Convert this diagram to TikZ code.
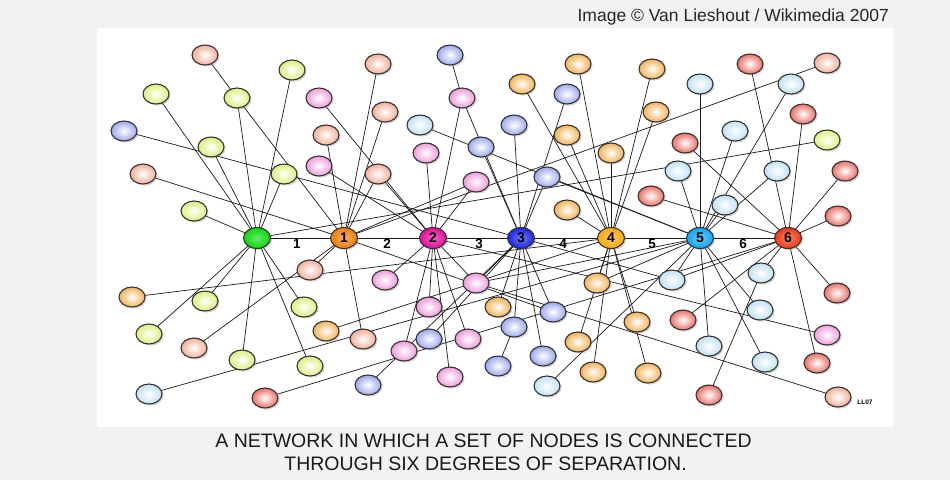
\documentclass[tikz,border=0pt]{standalone}
\usepackage{fontspec}
\setmainfont{Liberation Sans}
\usetikzlibrary{shapes.geometric,shadows}
\definecolor{bgray}{RGB}{242,242,242}
\definecolor{cPe}{RGB}{243,175,152}
\definecolor{cLi}{RGB}{220,240,125}
\definecolor{cBl}{RGB}{155,168,240}
\definecolor{cPk}{RGB}{240,155,218}
\definecolor{cLc}{RGB}{192,226,245}
\definecolor{cOg}{RGB}{245,178,85}
\definecolor{cRd}{RGB}{235,112,102}
\definecolor{cG}{RGB}{10,215,10}
\definecolor{cH1}{RGB}{240,125,5}
\definecolor{cH2}{RGB}{225,10,155}
\definecolor{cH3}{RGB}{25,35,225}
\definecolor{cH4}{RGB}{250,168,10}
\definecolor{cH5}{RGB}{15,165,240}
\definecolor{cH6}{RGB}{240,55,15}
\pgfdeclarelayer{bg}
\pgfdeclarelayer{edges}
\pgfsetlayers{bg,edges,main}
\tikzset{
  nd/.style={ellipse, draw=black!80, line width=1.1pt, minimum width=26pt, minimum height=20pt, inner sep=0pt,
    drop shadow={opacity=0.3, shadow xshift=1.6pt, shadow yshift=-1.6pt}},
  pe/.style={nd, inner color=white, outer color=cPe},
  li/.style={nd, inner color=white, outer color=cLi},
  bl/.style={nd, inner color=white, outer color=cBl},
  pk/.style={nd, inner color=white, outer color=cPk},
  lc/.style={nd, inner color=white, outer color=cLc},
  og/.style={nd, inner color=white, outer color=cOg},
  rd/.style={nd, inner color=white, outer color=cRd},
  hub/.style={nd, minimum width=27pt, minimum height=21pt, font=\bfseries\fontsize{14}{14}\selectfont,
    inner color=#1!60!white, outer color=#1},
  lnk/.style={draw=black!90, line width=0.7pt},
  elab/.style={font=\bfseries\fontsize{13.5}{14}\selectfont, inner sep=0pt}
}
\begin{document}
\begin{tikzpicture}[x=1pt,y=-1pt]
\useasboundingbox (0,0) rectangle (950,480);
\begin{pgfonlayer}{bg}
\fill[bgray] (0,0) rectangle (950,480);
\fill[white] (97,28) rectangle (893,427);
\end{pgfonlayer}
\node[anchor=base east, font=\fontsize{17.5}{20}\selectfont, text=black!85, inner sep=0pt] (title) at (889,21) {Image © Van Lieshout / Wikimedia 2007};
\node[anchor=base, font=\fontsize{19.5}{22}\selectfont, text=black!90, inner sep=0pt] (cap1) at (483.5,447) {A NETWORK IN WHICH A SET OF NODES IS CONNECTED};
\node[anchor=base, font=\fontsize{19.5}{22}\selectfont, text=black!90, inner sep=0pt] (cap2) at (485.5,470) {THROUGH SIX DEGREES OF SEPARATION.};
\node[font=\bfseries\fontsize{6.5}{7}\selectfont, inner sep=0pt] (ll) at (865,402) {LL07};
% hubs
\node[hub=cG] (G) at (257,238) {};
\node[hub=cH1] (H1) at (344,238) {1};
\node[hub=cH2] (H2) at (433,238) {2};
\node[hub=cH3] (H3) at (521,238) {3};
\node[hub=cH4] (H4) at (611,238) {4};
\node[hub=cH5] (H5) at (700,238) {5};
\node[hub=cH6] (H6) at (788,238) {6};
% edge labels
\node[elab] (l1) at (297,244) {1};
\node[elab] (l2) at (387,244) {2};
\node[elab] (l3) at (479,244) {3};
\node[elab] (l4) at (563,244) {4};
\node[elab] (l5) at (652,244) {5};
\node[elab] (l6) at (743,244) {6};
% top left
\node[pe] (a1) at (205,55) {};
\node[li] (a2) at (292,70) {};
\node[li] (a3) at (156,94) {};
\node[li] (a4) at (237,98) {};
\node[pk] (a5) at (319,98) {};
\node[bl] (a6) at (124,131) {};
\node[pe] (a7) at (326,135) {};
\node[li] (a8) at (211,147) {};
\node[pe] (a9) at (143,174) {};
\node[li] (a10) at (284,174) {};
\node[pk] (a11) at (319,166) {};
\node[li] (a12) at (194,211) {};
\node[pe] (a13) at (378,64) {};
\node[pe] (a14) at (385,112) {};
\node[pe] (a15) at (378,174) {};
% top centre
\node[bl] (b1) at (450,55) {};
\node[og] (b2) at (578,64) {};
\node[og] (b3) at (522,84) {};
\node[pk] (b4) at (462,98) {};
\node[bl] (b5) at (567,94) {};
\node[lc] (b6) at (420,125) {};
\node[bl] (b7) at (514,125) {};
\node[og] (b8) at (567,135) {};
\node[pk] (b9) at (426,153) {};
\node[bl] (b10) at (481,147) {};
\node[og] (b11) at (611,153) {};
\node[pk] (b12) at (476,182) {};
\node[bl] (b13) at (547,177) {};
\node[og] (b14) at (567,210) {};
% top right
\node[og] (c1) at (652,69) {};
\node[rd] (c2) at (750,64) {};
\node[pe] (c3) at (827,63) {};
\node[lc] (c4) at (700,84) {};
\node[lc] (c5) at (791,84) {};
\node[og] (c6) at (656,112) {};
\node[rd] (c7) at (803,114) {};
\node[lc] (c8) at (735,131) {};
\node[rd] (c9) at (685,143) {};
\node[li] (c10) at (827,140) {};
\node[lc] (c11) at (678,171) {};
\node[lc] (c12) at (777,171) {};
\node[rd] (c13) at (845,171) {};
\node[rd] (c14) at (651,196) {};
\node[lc] (c15) at (725,205) {};
\node[rd] (c16) at (838,216) {};
% bottom left
\node[pe] (d1) at (310,270) {};
\node[og] (d2) at (132,297) {};
\node[li] (d3) at (205,301) {};
\node[li] (d4) at (304,307) {};
\node[li] (d5) at (149,334) {};
\node[og] (d6) at (326,331) {};
\node[pe] (d7) at (363,339) {};
\node[pe] (d8) at (194,348) {};
\node[li] (d9) at (242,360) {};
\node[li] (d10) at (310,366) {};
\node[lc] (d11) at (149,394) {};
\node[rd] (d12) at (265,398) {};
\node[bl] (d13) at (368,385) {};
% bottom centre
\node[pk] (e1) at (385,280) {};
\node[pk] (e2) at (476,283) {};
\node[og] (e3) at (597,283) {};
\node[pk] (e4) at (429,307) {};
\node[og] (e5) at (498,307) {};
\node[bl] (e6) at (553,312) {};
\node[bl] (e7) at (514,327) {};
\node[og] (e8) at (637,322) {};
\node[bl] (e9) at (429,339) {};
\node[pk] (e10) at (468,339) {};
\node[pk] (e11) at (404,351) {};
\node[og] (e12) at (578,342) {};
\node[bl] (e13) at (543,356) {};
\node[bl] (e14) at (498,366) {};
\node[pk] (e15) at (450,377) {};
\node[og] (e16) at (593,372) {};
\node[og] (e17) at (648,373) {};
\node[lc] (e18) at (547,386) {};
% bottom right
\node[lc] (f1) at (672,280) {};
\node[lc] (f2) at (761,273) {};
\node[rd] (f3) at (837,293) {};
\node[lc] (f4) at (760,310) {};
\node[rd] (f5) at (683,320) {};
\node[pk] (f6) at (827,335) {};
\node[lc] (f7) at (709,346) {};
\node[lc] (f8) at (765,362) {};
\node[rd] (f9) at (817,363) {};
\node[rd] (f10) at (709,395) {};
\node[pe] (f11) at (838,397) {};
\begin{pgfonlayer}{edges}
\foreach \a/\b in {G/H1,H1/H2,H2/H3,H3/H4,H4/H5,H5/H6,
  G/a2,G/a3,G/a4,G/a8,G/a10,G/a12,G/c10,G/d3,G/d4,G/d5,G/d9,G/d10,
  H1/a4,H1/a7,H1/a9,H1/a13,H1/a14,H1/a15,H1/d1,H1/d7,H1/d8,H1/b12,H1/c3,H1/e6,
  H2/a5,H2/a11,H2/a15,H2/b4,H2/b9,H2/b12,H2/e1,H2/e4,H2/e10,H2/e11,H2/e15,H2/e2,H2/f6,
  H3/a6,H3/b4,H3/b10,H3/b5,H3/b13,H3/b7,H3/e2,H3/e9,H3/d13,H3/e5,H3/e7,H3/e13,H3/e6,H3/f1,
  H4/b2,H4/b3,H4/c1,H4/c6,H4/b8,H4/b11,H4/b14,H4/e3,H4/e12,H4/e16,H4/e8,H4/e17,H4/d2,H4/d6,
  H5/c4,H5/c5,H5/c8,H5/c11,H5/c12,H5/c15,H5/f1,H5/f4,H5/f7,H5/f8,H5/e18,H5/d11,H5/b6,H5/b13,H5/e3,H5/e2,
  H6/c2,H6/c7,H6/c9,H6/c13,H6/c14,H6/c16,H6/f1,H6/f2,H6/f3,H6/f5,H6/f9,H6/d12,
  a1/a4,b1/b4,e14/e7,f2/f10,e2/f11}
  \draw[lnk] (\a.center) -- (\b.center);
\end{pgfonlayer}
\end{tikzpicture}
\end{document}
